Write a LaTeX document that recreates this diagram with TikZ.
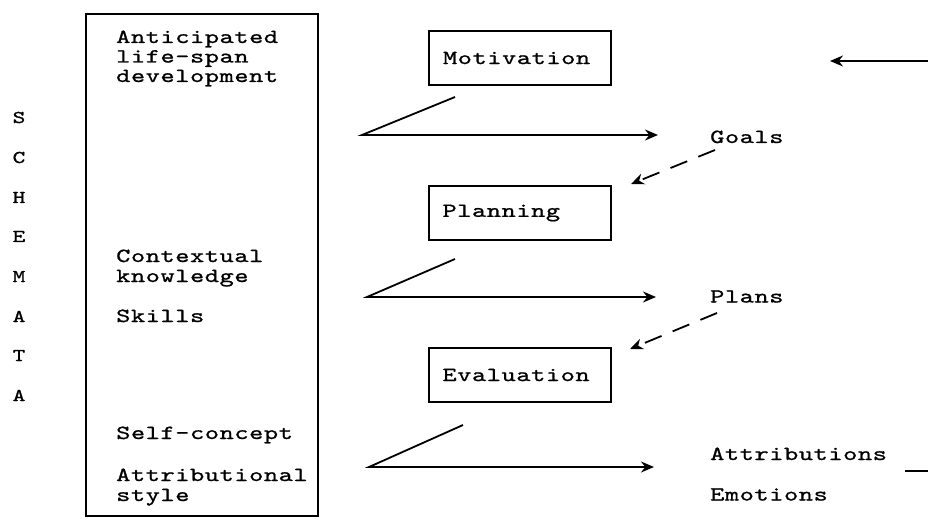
\documentclass[tikz,border=0pt]{standalone}
\usepackage{fontspec}
\usetikzlibrary{arrows.meta}
\newfontfamily\monofnt[FakeStretch=1.35,LetterSpace=3,FakeBold=1.0]{lmmono10-regular.otf}
\begin{document}
\begin{tikzpicture}[x=1pt,y=-1pt,
  txt/.style={font=\monofnt\fontsize{20}{20}\selectfont, inner sep=0pt, anchor=base west, text height=13pt, text depth=4pt},
  schem/.style={font=\monofnt\fontsize{18}{20}\selectfont, inner sep=0pt, anchor=base},
  pbox/.style={draw, line width=2pt, font=\monofnt\fontsize{20}{20}\selectfont,
    text width=154pt, inner xsep=14pt, inner ysep=0pt, minimum height=54pt, align=left},
  conn/.style={line width=1.8pt, -{Stealth[length=13pt,width=11pt]}},
  dconn/.style={line width=1.8pt, dash pattern=on 18pt off 12pt, -{Stealth[length=13pt,width=11pt]}},
  plain/.style={line width=1.8pt}]
\useasboundingbox (0,0) rectangle (928,521);
% big schemata box
\node[draw, line width=2pt, minimum width=232pt, minimum height=502pt, inner sep=0pt] (big) at (202,265) {};
\node[txt] (t1) at (116,43) {Anticipated};
\node[txt] (t2) at (116,62.5) {life-span};
\node[txt] (t3) at (116,82) {development};
\node[txt] (t4) at (116,262) {Contextual};
\node[txt] (t5) at (116,282) {knowledge};
\node[txt] (t6) at (116,322) {Skills};
\node[txt] (t7) at (116,439) {Self-concept};
\node[txt] (t8) at (116,481) {Attributional};
\node[txt] (t9) at (116,501) {style};
% SCHEMATA
\node[schem] (s1) at (19,123) {S};
\node[schem] (s2) at (19,163) {C};
\node[schem] (s3) at (19,203) {H};
\node[schem] (s4) at (19,242) {E};
\node[schem] (s5) at (19,282) {M};
\node[schem] (s6) at (19,322) {A};
\node[schem] (s7) at (19,361) {T};
\node[schem] (s8) at (19,401) {A};
% process boxes
\node[pbox] (mot) at (520,58) {Motivation};
\node[pbox] (pla) at (519.5,213) {Planning};
\node[pbox] (eva) at (519.5,375) {Evaluation};
% outputs
\node[txt] (goals) at (710,143) {Goals};
\node[txt] (plans) at (710,302.5) {Plans};
\node[txt] (attr) at (710,460) {Attributions};
\node[txt] (emo) at (710,500.5) {Emotions};
% coordinates
\coordinate (m1) at (455,97);
\coordinate (m2) at (362,135);
\coordinate (m3) at (658,135);
\coordinate (p1) at (455,259);
\coordinate (p2) at (367,297);
\coordinate (p3) at (656,297);
\coordinate (e1) at (463,425);
\coordinate (e2) at (369,467);
\coordinate (e3) at (654,467);
\coordinate (g1) at (715,150);
\coordinate (g2) at (631,184);
\coordinate (q1) at (717,313);
\coordinate (q2) at (630,349);
\coordinate (r1) at (928,61);
\coordinate (r2) at (830,61);
\coordinate (a1) at (905,471);
\coordinate (a2) at (928,471);
% connectors
\draw[conn] (m1) -- (m2) -- (m3);
\draw[conn] (p1) -- (p2) -- (p3);
\draw[conn] (e1) -- (e2) -- (e3);
\draw[dconn] (g1) -- (g2);
\draw[dconn] (q1) -- (q2);
\draw[conn] (r1) -- (r2);
\draw[plain] (a1) -- (a2);
\end{tikzpicture}
\end{document}
